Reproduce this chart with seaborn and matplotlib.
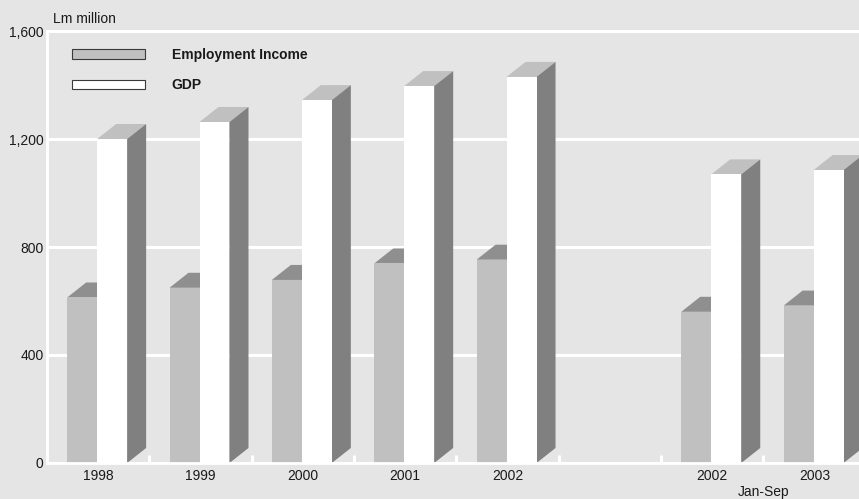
import numpy as np
import pandas as pd
import matplotlib
matplotlib.use("Agg")
import matplotlib.pyplot as plt
from matplotlib.patches import Polygon, Patch
from matplotlib.ticker import FixedLocator
import seaborn as sns

# Data (Lm million)
periods = ["1998", "1999", "2000", "2001", "2002", "", "2002 Jan-Sep", "2003 Jan-Sep"]
tick_labels = ["1998", "1999", "2000", "2001", "2002", "", "2002", "2003"]
employment = [613, 649, 678, 739, 753, np.nan, 560, 583]
gdp = [1200, 1263, 1344, 1396, 1430, np.nan, 1069, 1085]
series = ["Employment Income", "GDP"]
y_ticks = [0, 400, 800, 1200, 1600]
y_tick_labels = ["0", "400", "800", "1,200", "1,600"]

df = pd.DataFrame({
    "period": periods * 2,
    "series": [series[0]] * len(periods) + [series[1]] * len(periods),
    "value": employment + gdp,
})

BG = "#e5e5e5"
TXT = "#1a1a1a"
FS = 10
front = {"Employment Income": "#c0c0c0", "GDP": "#ffffff"}
top_col = {"Employment Income": "#8f8f8f", "GDP": "#c0c0c0"}
side_col = "#808080"

sns.set_theme(style="white")
plt.rcParams["font.family"] = ["Liberation Sans", "DejaVu Sans"]

W, H = 859, 499
fig = plt.figure(figsize=(W / 100, H / 100), dpi=100, facecolor=BG)

slot_px = 102.35
px_per_unit = 0.27
ymax = 1615
ax = fig.add_axes([47 / W, 36 / H, 8 * slot_px / W, ymax * px_per_unit / H])
ax.set_facecolor(BG)

sns.barplot(data=df, x="period", y="value", hue="series", order=periods,
            hue_order=series, palette=front, width=0.586, dodge=True,
            saturation=1, errorbar=None, legend=False, edgecolor="none",
            linewidth=0, ax=ax)

ax.set_xlim(-0.5, 7.5)
ax.set_ylim(0, ymax)

# 3D depth of each bar, expressed in data units
dx = 19 / slot_px
dy = 15 / px_per_unit
shift = -0.01

for k, (name, cont) in enumerate(zip(series, ax.containers)):
    z_front = 2.6 if k == 0 else 3.1
    for bar in cont:
        h = bar.get_height()
        if not np.isfinite(h) or h <= 0:
            continue
        bar.set_x(bar.get_x() + shift)
        x0, w = bar.get_x(), bar.get_width()
        bar.set_zorder(z_front)
        top = Polygon([(x0, h), (x0 + w, h), (x0 + w + dx, h + dy), (x0 + dx, h + dy)],
                      closed=True, facecolor=top_col[name], edgecolor="none",
                      zorder=z_front - 0.1)
        side = Polygon([(x0 + w, 0), (x0 + w + dx, dy), (x0 + w + dx, h + dy), (x0 + w, h)],
                       closed=True, facecolor=side_col, edgecolor="none",
                       zorder=z_front - 0.1)
        ax.add_patch(top)
        ax.add_patch(side)

# Axes styling
ax.set_axisbelow(True)
ax.set_yticks(y_ticks)
ax.set_yticklabels(y_tick_labels)
ax.yaxis.grid(True, color="white", linewidth=2.2)
ax.xaxis.grid(False)
for s in ["top", "right"]:
    ax.spines[s].set_visible(False)
for s in ["left", "bottom"]:
    ax.spines[s].set_color("white")
    ax.spines[s].set_linewidth(2.0)
    ax.spines[s].set_zorder(3.5)
ax.spines["left"].set_bounds(0, 1600)

ax.set_xticks(range(len(periods)))
ax.set_xticklabels(tick_labels)
ax.xaxis.set_minor_locator(FixedLocator(np.arange(0.5, 7, 1.0)))
ax.tick_params(axis="x", which="major", length=0, pad=4.5, labelsize=FS, labelcolor=TXT)
ax.tick_params(axis="x", which="minor", direction="in", length=6, width=2.2,
               color="white", bottom=True)
ax.tick_params(axis="y", length=0, pad=2.5, labelsize=FS, labelcolor=TXT)
ax.set_xlabel("")
ax.set_ylabel("")

ax.text(6.5, -0.066, "Jan-Sep", transform=ax.get_xaxis_transform(),
        ha="center", va="center", fontsize=FS, color=TXT)
fig.text(53 / W, 1 - 23 / H, "Lm million", ha="left", va="baseline",
         fontsize=FS, color=TXT)

# Legend
handles = [Patch(facecolor=front[s], edgecolor="#3a3a3a", linewidth=0.8) for s in series]
leg = fig.legend(handles, series, loc="upper left",
                 bbox_to_anchor=(72 / W, 1 - 47.5 / H), frameon=False,
                 borderpad=0, borderaxespad=0, handlelength=5.25,
                 handleheight=0.72, handletextpad=1.94, labelspacing=1.21,
                 prop={"weight": "bold", "size": FS})
for t in leg.get_texts():
    t.set_color(TXT)

fig.savefig("out.png", dpi=100, facecolor=BG)
